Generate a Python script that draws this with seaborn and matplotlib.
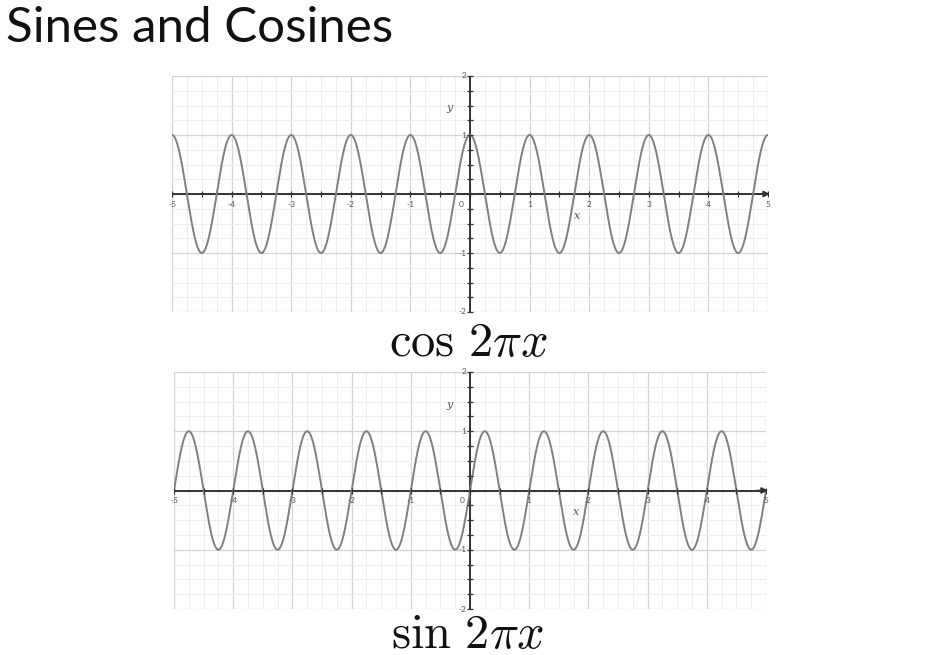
import numpy as np
import matplotlib
matplotlib.use("Agg")
import matplotlib.pyplot as plt
import seaborn as sns

# data: the two curves shown
x_min, x_max = -5, 5
y_min, y_max = -2, 2
freq = 2 * np.pi  # cos 2πx / sin 2πx
x_ticks = [-5, -4, -3, -2, -1, 0, 1, 2, 3, 4, 5]
x_tick_labels = ["-5", "-4", "-3", "-2", "-1", "0", "1", "2", "3", "4", "5"]
y_ticks = [-2, -1, 1, 2]
y_tick_labels = ["-2", "-1", "1", "2"]
panel_names = [r"$\cos\,2\pi x$", r"$\sin\,2\pi x$"]

xs = np.linspace(x_min, x_max, 2001)
cos_vals = np.cos(freq * xs)
sin_vals = np.sin(freq * xs)

sns.set_style("white")
plt.rcParams["mathtext.fontset"] = "cm"
plt.rcParams["font.family"] = ["Lato", "DejaVu Sans"]

fig = plt.figure(figsize=(9.44, 6.55), dpi=100)
fig.patch.set_facecolor("white")

# Title
fig.text(0.006, 0.958, "Sines and Cosines", fontsize=35.5, color="#111111",
         va="center", ha="left", fontfamily="Lato", fontweight="normal")


def draw_panel(ax, yvals, name, label_y):
    ax.set_xlim(x_min, x_max)
    ax.set_ylim(y_min, y_max)
    for s in ax.spines.values():
        s.set_visible(False)
    ax.set_xticks(np.arange(x_min, x_max + 0.01, 1))
    ax.set_yticks(np.arange(y_min, y_max + 0.01, 1))
    ax.set_xticks(np.arange(x_min, x_max + 0.01, 0.25), minor=True)
    ax.set_yticks(np.arange(y_min, y_max + 0.01, 0.25), minor=True)
    ax.grid(True, which="major", color="#d4d4d4", lw=0.9)
    ax.grid(True, which="minor", color="#eeeeee", lw=0.7)
    ax.tick_params(which="both", length=0, labelbottom=False, labelleft=False)
    ax.set_axisbelow(True)

    # curve
    sns.lineplot(x=xs, y=yvals, ax=ax, color="#808080", lw=1.4, zorder=4)

    # axes through origin
    ax.axhline(0, color="#333333", lw=1.4, zorder=3)
    ax.axvline(0, color="#333333", lw=1.4, zorder=3)
    ax.annotate("", xy=(x_max + 0.08, 0), xytext=(x_max - 0.2, 0),
                arrowprops=dict(arrowstyle="-|>", color="#333333", lw=1.2,
                                mutation_scale=9),
                annotation_clip=False, zorder=5)
    # small axis ticks
    hx = np.arange(x_min, x_max + 0.01, 0.5)
    ax.plot(hx, np.zeros_like(hx), ls="none", marker="|", ms=4, color="#333333",
            mew=0.9, zorder=5)
    hy = np.arange(y_min, y_max + 0.01, 0.25)
    ax.plot(np.zeros_like(hy), hy, ls="none", marker="_", ms=4, color="#333333",
            mew=0.9, zorder=5, clip_on=False)

    # tick labels
    for t, lab in zip(x_ticks, x_tick_labels):
        if t == 0:
            ax.text(-0.14, -0.17, lab, fontsize=6, color="#555555",
                    ha="center", va="center", zorder=6)
        else:
            ax.text(t, -0.17, lab, fontsize=6, color="#555555",
                    ha="center", va="center", zorder=6, clip_on=False)
    for t, lab in zip(y_ticks, y_tick_labels):
        ax.text(-0.06, t, lab, fontsize=6, color="#555555",
                ha="right", va="center", zorder=6)
    ax.text(-0.35, 1.45, "y", fontsize=8, color="#555555", family="serif",
            style="italic", ha="center", va="center")
    ax.text(1.8, -0.37, "x", fontsize=8, color="#555555", family="serif",
            style="italic", ha="center", va="center")
    fig.text(0.4958, label_y, name, fontsize=35, color="#111111",
             ha="center", va="center")


ax1 = fig.add_axes([172 / 944, 1 - 312 / 655, 596 / 944, 236 / 655])
ax2 = fig.add_axes([174 / 944, 1 - 609 / 655, 592 / 944, 237 / 655])
draw_panel(ax1, cos_vals, panel_names[0], 1 - 342 / 655)
draw_panel(ax2, sin_vals, panel_names[1], 1 - 634 / 655)

fig.savefig("out.png", dpi=100, facecolor="white")
